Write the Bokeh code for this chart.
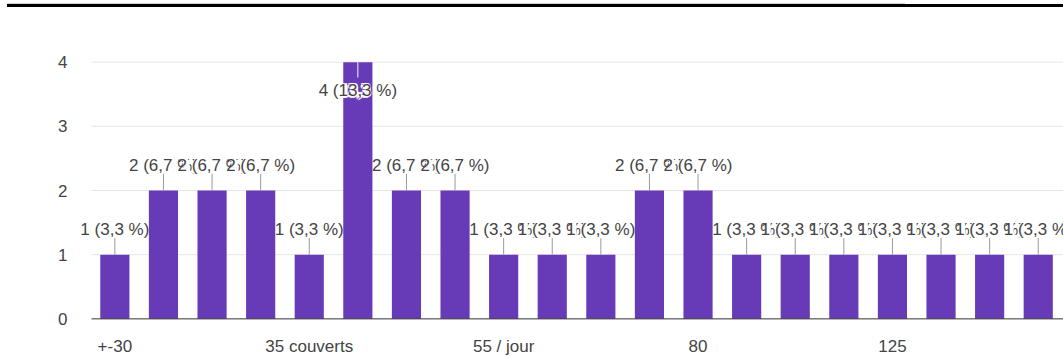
from bokeh.plotting import figure
from bokeh.models import Range1d, FixedTicker, ColumnDataSource, Div, Label, LabelSet
from bokeh.layouts import column
from bokeh.core.properties import value
from bokeh.embed import file_html
from bokeh.resources import INLINE

# Responses per category (counts)
counts = [1, 2, 2, 2, 1, 4, 2, 2, 1, 1, 1, 2, 2, 1, 1, 1, 1, 1, 1, 1]
# Axis labels shown for every fourth category
tick_labels = ["+-30", "35 couverts", "55 / jour", "80", "125"]

PURPLE = "#673ab7"
TEXT = "#444444"
FONT = "Liberation Sans"

n = len(counts)
total = sum(counts)
ymax = max(counts)
xs = list(range(n))
yticks = list(range(ymax + 1))
pct = [f"{c} ({c / total * 100:.1f} %)".replace(".", ",") for c in counts]

# plotting area spans from x_left to x_right; the frame is padded on the
# left, top and bottom so labels near the edges are not clipped
x_left, x_right = -0.48, n - 0.48
ypad = 0.15

# labels sit above short bars and inside the tallest ones
inside = [c >= ymax for c in counts]
src = ColumnDataSource(dict(
    x=xs, top=counts,
    stem_end=[c - 0.24 if i else c + 0.26 for c, i in zip(counts, inside)],
    stem_col=["#f4f4f4" if i else "#9a9a9a" for i in inside],
))

p = figure(width=1063, height=351, output_backend="svg", toolbar_location=None,
           x_range=Range1d(x_left - 1.05, x_right), y_range=Range1d(-ypad, ymax + ypad),
           min_border_left=40, min_border_right=0, min_border_top=45,
           min_border_bottom=22)
p.outline_line_color = None
p.background_fill_color = "white"
p.border_fill_color = "white"
p.xgrid.grid_line_color = None
p.ygrid.grid_line_color = None
p.yaxis.visible = False

# horizontal gridlines and baseline
grid_y = yticks[1:]
p.segment(x0=[x_left] * len(grid_y), y0=grid_y, x1=[x_right] * len(grid_y), y1=grid_y,
          line_color="#e6e6e6", line_width=1)

p.vbar(x="x", top="top", width=0.6, fill_color=PURPLE, line_color=None, source=src)
p.segment(x0=[x_left], y0=[0], x1=[x_right], y1=[0], line_color="#333333", line_width=1)
p.segment(x0="x", y0="top", x1="x", y1="stem_end", line_color="stem_col",
          line_width=1, source=src)

# y tick labels
p.text(x=[x_left] * len(yticks), y=yticks, text=[str(t) for t in yticks],
       x_offset=-24, text_align="right", text_baseline="middle",
       text_font=value(FONT), text_font_size="17px", text_color=TEXT)

# value labels, each with a white halo; later labels cover earlier ones
halo = [(-2, 0), (2, 0), (0, -2), (0, 2), (-1.5, -1.5), (1.5, -1.5), (-1.5, 1.5), (1.5, 1.5)]
text_kw = dict(text_align="center", text_baseline="middle", text_font=FONT,
               text_font_size="17px")
for xi, c, lab, ins in zip(xs, counts, pct, inside):
    yoff = -28 if ins else 25
    hs = ColumnDataSource(dict(
        x=[xi] * len(halo), y=[c] * len(halo), t=[lab] * len(halo),
        dx=[dx for dx, dy in halo], dy=[yoff + dy for dx, dy in halo]))
    p.add_layout(LabelSet(x="x", y="y", text="t", x_offset="dx", y_offset="dy",
                          source=hs, text_color="white", **text_kw))
    p.add_layout(Label(x=xi, y=c, text=lab, y_offset=yoff, text_color=TEXT, **text_kw))

# x axis: category names every fourth bar
p.xaxis.ticker = FixedTicker(ticks=xs[::4])
p.xaxis.major_label_overrides = {i: t for i, t in zip(xs[::4], tick_labels)}
p.xaxis.axis_line_color = None
p.xaxis.major_tick_line_color = None
p.xaxis.minor_tick_line_color = None
p.xaxis.major_label_standoff = 2
p.xaxis.major_label_text_font = FONT
p.xaxis.major_label_text_font_size = "17px"
p.xaxis.major_label_text_color = TEXT

# thin rule across the top of the page
rule_light = Div(text="", width=898, height=1, margin=(3, 0, 0, 7),
                 styles={"background-color": "#cfcfcf"})
rule_dark = Div(text="", width=1056, height=3, margin=(0, 0, 0, 7),
                styles={"background-color": "#000000"})

layout = column(rule_light, rule_dark, p, spacing=0)
open("out.html", "w").write(file_html(layout, INLINE))
